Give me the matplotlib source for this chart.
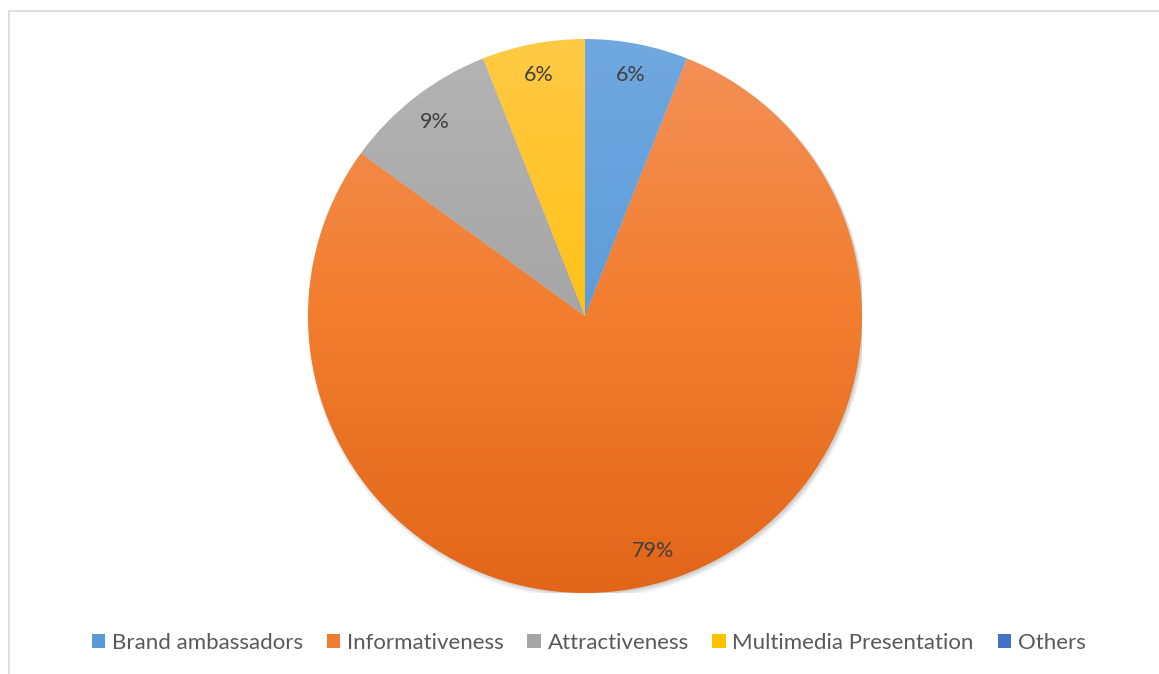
import numpy as np
import matplotlib.pyplot as plt
from matplotlib.patches import Rectangle, Circle
from matplotlib.colors import LinearSegmentedColormap

# data
categories = ['Brand ambassadors', 'Informativeness', 'Attractiveness',
              'Multimedia Presentation', 'Others']
shares = [6, 79, 9, 6, 0]
base_colors = ['#5B9BD5', '#ED7D31', '#A5A5A5', '#FFC000', '#4472C4']
# vertical gradient stops (top, middle, bottom)
grad_colors = [['#70A8E0', '#5E9DD9', '#5590CE'],
               ['#F39158', '#F27D2E', '#E2661A'],
               ['#B4B4B4', '#A6A6A6', '#979797'],
               ['#FFCA45', '#FFC116', '#F2B700'],
               ['#4472C4', '#4472C4', '#4472C4']]

plt.rcParams['font.family'] = ['Lato', 'DejaVu Sans']

W, H = 1159, 674
fig = plt.figure(figsize=(W / 100, H / 100), dpi=100)

# light frame like the Excel chart area
fig.patches.append(Rectangle((9 / W, -0.01), (W - 9) / W + 0.01, (H - 11) / H + 0.01,
                             transform=fig.transFigure, fill=False,
                             edgecolor='#D9D9D9', linewidth=1.2))

cx, cy, r = 585, 316, 277
ax = fig.add_axes([(cx - r) / W, (H - cy - r) / H, 2 * r / W, 2 * r / H])

# soft shadow
for k, a in enumerate([0.05, 0.06, 0.08]):
    ax.add_patch(Circle((0.006, -0.012 + 0.003 * k), 1.0 + 0.004 * (2 - k),
                        facecolor='black', edgecolor='none', alpha=a, zorder=0))

wedges, _ = ax.pie(shares, colors=base_colors, startangle=90, counterclock=False,
                   radius=1.0, wedgeprops=dict(edgecolor='none', linewidth=0))

grad = np.linspace(0, 1, 256).reshape(-1, 1)
for w, stops in zip(wedges, grad_colors):
    cmap = LinearSegmentedColormap.from_list('g', stops)
    im = ax.imshow(grad, cmap=cmap, extent=[-1, 1, -1, 1], origin='upper',
                   aspect='auto', zorder=2)
    im.set_clip_path(w)
    w.set_facecolor('none')

# percentage labels
total = sum(shares)
start = 90.0
for s in shares:
    sweep = s / total * 360
    mid = np.deg2rad(start - sweep / 2)
    if s > 0:
        ax.text(0.885 * np.cos(mid), 0.885 * np.sin(mid), f'{s}%', ha='center',
                va='center', fontsize=15.5, color='#404040', zorder=5)
    start -= sweep

ax.set_xlim(-1, 1)
ax.set_ylim(-1, 1)
ax.set_aspect('equal')
ax.axis('off')

handles = [Rectangle((0, 0), 1, 1, facecolor=c, edgecolor='none') for c in base_colors]
fig.legend(handles, categories, loc='center', bbox_to_anchor=(0.508, 1 - 643 / H),
           ncol=5, frameon=False, fontsize=16, labelcolor='#595959',
           handlelength=0.6, handleheight=0.6, handletextpad=0.3, columnspacing=1.07)

fig.savefig('out.png', dpi=100)
